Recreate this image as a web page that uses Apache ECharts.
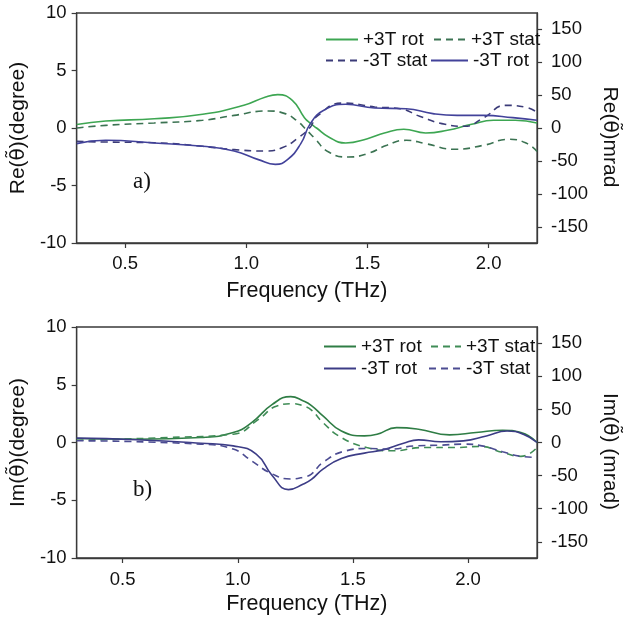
<!DOCTYPE html>
<html>
<head>
<meta charset="utf-8">
<script src="https://cdn.jsdelivr.net/npm/echarts@6/dist/echarts.min.js"></script>
<style>html,body{margin:0;padding:0;background:#fff}#c{width:628px;height:619px}</style>
</head>
<body>
<div id="c"></div>
<script>
// ---- Panel a) Re(theta) ----
const rePlusRotX  = [0.30,0.42,0.62,0.82,0.99,1.08,1.13,1.19,1.24,1.265,1.29,1.34,1.41,1.50,1.57,1.65,1.74,1.83,1.93,2.02,2.11,2.20];
const rePlusRotY  = [0.30,0.61,0.80,1.19,1.97,2.70,2.90,2.41,0.90,0.40,0.00,-0.78,-1.30,-0.93,-0.43,-0.11,-0.43,-0.20,0.32,0.67,0.67,0.44];
const rePlusStatX = [0.30,0.42,0.62,0.82,0.95,1.09,1.16,1.21,1.25,1.28,1.34,1.42,1.50,1.58,1.66,1.74,1.86,1.98,2.085,2.16,2.20];
const rePlusStatY = [0.00,0.23,0.44,0.67,1.10,1.48,1.25,0.61,-0.20,-0.84,-2.09,-2.52,-2.23,-1.50,-1.07,-1.36,-1.85,-1.50,-0.98,-1.36,-2.05];
const reMinusRotX = [0.30,0.42,0.62,0.82,0.95,1.05,1.12,1.17,1.225,1.265,1.32,1.41,1.53,1.66,1.77,1.87,1.98,2.10,2.20];
const reMinusRotY = [-1.36,-1.07,-1.30,-1.59,-2.00,-2.75,-3.16,-2.75,-1.36,0.40,1.54,2.06,1.74,1.68,1.25,1.10,1.10,0.90,0.67];
const reMinusStatX = [0.30,0.42,0.62,0.82,0.95,1.08,1.15,1.21,1.265,1.29,1.40,1.53,1.635,1.715,1.82,1.90,1.98,2.07,2.16,2.20];
const reMinusStatY = [-1.16,-1.22,-1.28,-1.59,-1.88,-2.00,-1.70,-0.92,0.09,1.00,2.17,1.83,1.68,1.02,0.32,0.15,0.90,1.97,1.77,1.35];

// ---- Panel b) Im(theta) ----
const imPlusRotX  = [0.30,0.56,0.84,0.98,1.06,1.15,1.23,1.285,1.32,1.37,1.45,1.55,1.605,1.69,1.785,1.92,2.035,2.15,2.23,2.30];
const imPlusRotY  = [0.34,0.28,0.43,0.86,1.72,3.30,3.97,3.59,3.20,2.30,1.00,0.57,0.71,1.29,1.15,0.66,0.86,1.06,0.86,0.00];
const imPlusStatX = [0.30,0.70,0.98,1.09,1.17,1.24,1.285,1.32,1.37,1.45,1.56,1.67,1.81,1.95,2.05,2.15,2.23,2.30];
const imPlusStatY = [0.20,0.43,0.72,2.00,3.16,3.36,3.16,2.80,1.72,0.43,-0.43,-0.72,-0.43,-0.43,-0.34,-0.86,-1.20,-0.43];
const imMinusRotX = [0.30,0.56,0.84,0.98,1.08,1.15,1.22,1.285,1.32,1.37,1.45,1.55,1.63,1.72,1.785,1.88,1.98,2.08,2.17,2.24,2.30];
const imMinusRotY = [0.38,0.24,-0.06,-0.29,-1.00,-2.88,-4.08,-3.59,-3.20,-2.30,-1.38,-0.92,-0.64,-0.06,0.23,0.06,0.14,0.57,1.00,0.72,0.00];
const imMinusStatX = [0.30,0.84,0.98,1.06,1.15,1.23,1.285,1.32,1.37,1.47,1.56,1.66,1.77,1.88,1.98,2.06,2.15,2.23,2.30];
const imMinusStatY = [0.15,-0.14,-0.57,-1.59,-2.73,-3.16,-3.00,-2.73,-1.72,-0.72,-0.52,-0.57,-0.29,-0.23,-0.14,-0.29,-0.80,-1.20,-1.29];

// ---- Axis ticks ----
const xTicks = [0.5, 1.0, 1.5, 2.0];
const mradTicks = [-150, -100, -50, 0, 50, 100, 150];
const DEG_MRAD = 10 * Math.PI / 180 * 1000; // 10 degrees in mrad

const zip = (xs, ys) => xs.map((x, i) => [x, ys[i]]);

const C = {
  gRotA: '#3da652', gStatA: '#3b7352', bRotA: '#42429a', bStatA: '#3b3b78',
  gRotB: '#2f7d45', gStatB: '#3f8c56', bRotB: '#3c3c86', bStatB: '#4c4c92'
};
const FONT = 'Liberation Sans, Arial, sans-serif';
const axisLine = { show: true, onZero: false, lineStyle: { color: '#3a3a3a', width: 1.3 } };
const axisTick = { show: true, length: 5, lineStyle: { color: '#3a3a3a', width: 1.2 } };
const lbl = { color: '#111', fontSize: 18.5, fontFamily: FONT };
const dash = [7, 5];
const nameRich = (size) => ({
  t: { fontFamily: 'DejaVu Sans', fontSize: size - 1, color: '#111' }
});

function xAxis(grid, max, margin, gap) {
  return {
    type: 'value', gridIndex: grid, min: 0.3, max: max,
    axisLine: axisLine,
    axisTick: Object.assign({}, axisTick, { customValues: xTicks }),
    axisLabel: Object.assign({}, lbl, { margin: margin, customValues: xTicks, formatter: v => v.toFixed(1) }),
    splitLine: { show: false },
    name: 'Frequency (THz)', nameLocation: 'middle', nameGap: gap,
    nameTextStyle: { color: '#111', fontSize: 21.5, fontFamily: FONT }
  };
}
function yLeft(grid, pre, post) {
  return {
    type: 'value', gridIndex: grid, min: -10, max: 10, interval: 5, position: 'left',
    axisLine: axisLine, axisTick: axisTick,
    axisLabel: Object.assign({}, lbl, { margin: 10 }),
    splitLine: { show: false },
    name: pre + '{t|θ̃}' + post, nameLocation: 'middle', nameGap: 41,
    nameTextStyle: { color: '#111', fontSize: 21, fontFamily: FONT, rich: nameRich(21) }
  };
}
function yRight(grid, pre, post) {
  return {
    type: 'value', gridIndex: grid, min: -DEG_MRAD, max: DEG_MRAD, position: 'right',
    axisLine: axisLine,
    axisTick: Object.assign({}, axisTick, { customValues: mradTicks }),
    axisLabel: Object.assign({}, lbl, { margin: 14, customValues: mradTicks }),
    splitLine: { show: false },
    name: pre + '{t|θ̃}' + post, nameLocation: 'middle', nameGap: 48, nameRotate: -90,
    nameTextStyle: { color: '#111', fontSize: 21, fontFamily: FONT, padding: [0, 0, 0, 18], rich: nameRich(21) }
  };
}
function line(name, data, color, type, xi, yi) {
  return {
    type: 'line', name: name, data: data, xAxisIndex: xi, yAxisIndex: yi,
    smooth: 0.5, symbol: 'none', silent: true,
    lineStyle: { color: color, width: 1.6, type: type }, itemStyle: { color: color }
  };
}
function leg(name, left, top, w) {
  return {
    left: left, top: top, padding: 0, itemWidth: w, itemHeight: 14, itemGap: 0,
    itemStyle: { opacity: 0, color: 'rgba(0,0,0,0)', borderWidth: 0 },
    textStyle: { color: '#111', fontSize: 19, fontFamily: FONT },
    data: [name], selectedMode: false
  };
}

const chart = echarts.init(document.getElementById('c'), null, { renderer: 'canvas' });
chart.setOption({
  animation: false,
  backgroundColor: '#fff',
  grid: [
    { left: 73.5, top: 13, width: 481.5, height: 230, show: true, borderColor: '#3a3a3a', borderWidth: 1.3 },
    { left: 73.5, top: 327, width: 481.5, height: 231, show: true, borderColor: '#3a3a3a', borderWidth: 1.3 }
  ],
  xAxis: [ xAxis(0, 2.2, 11, 37), xAxis(1, 2.3, 12, 35) ],
  yAxis: [
    yLeft(0, 'Re(', ')(degree)'), yRight(0, 'Re(', ')mrad'),
    yLeft(1, 'Im(', ')(degree)'), yRight(1, 'Im(', ') (mrad)')
  ],
  legend: [
    leg('+3T rot', 325, 30, 32),
    leg('+3T stat', 433, 30, 32),
    leg('-3T stat', 325, 51, 32),
    leg('-3T rot', 430, 51, 37),
    leg('+3T rot ', 323, 337, 32),
    leg('+3T stat ', 430, 337, 30),
    leg('-3T rot ', 323, 359, 32),
    leg('-3T stat ', 428, 359, 32)
  ],
  series: [
    line('+3T rot', zip(rePlusRotX, rePlusRotY), C.gRotA, 'solid', 0, 0),
    line('+3T stat', zip(rePlusStatX, rePlusStatY), C.gStatA, dash, 0, 0),
    line('-3T stat', zip(reMinusStatX, reMinusStatY), C.bStatA, dash, 0, 0),
    line('-3T rot', zip(reMinusRotX, reMinusRotY), C.bRotA, 'solid', 0, 0),
    line('+3T rot ', zip(imPlusRotX, imPlusRotY), C.gRotB, 'solid', 1, 2),
    line('+3T stat ', zip(imPlusStatX, imPlusStatY), C.gStatB, dash, 1, 2),
    line('-3T rot ', zip(imMinusRotX, imMinusRotY), C.bRotB, 'solid', 1, 2),
    line('-3T stat ', zip(imMinusStatX, imMinusStatY), C.bStatB, dash, 1, 2)
  ],
  graphic: [
    { type: 'text', left: 133, top: 170, style: { text: 'a)', font: '23px "Liberation Serif", "Times New Roman", serif', fill: '#111' } },
    { type: 'text', left: 133, top: 478, style: { text: 'b)', font: '23px "Liberation Serif", "Times New Roman", serif', fill: '#111' } }
  ]
});
</script>
</body>
</html>
